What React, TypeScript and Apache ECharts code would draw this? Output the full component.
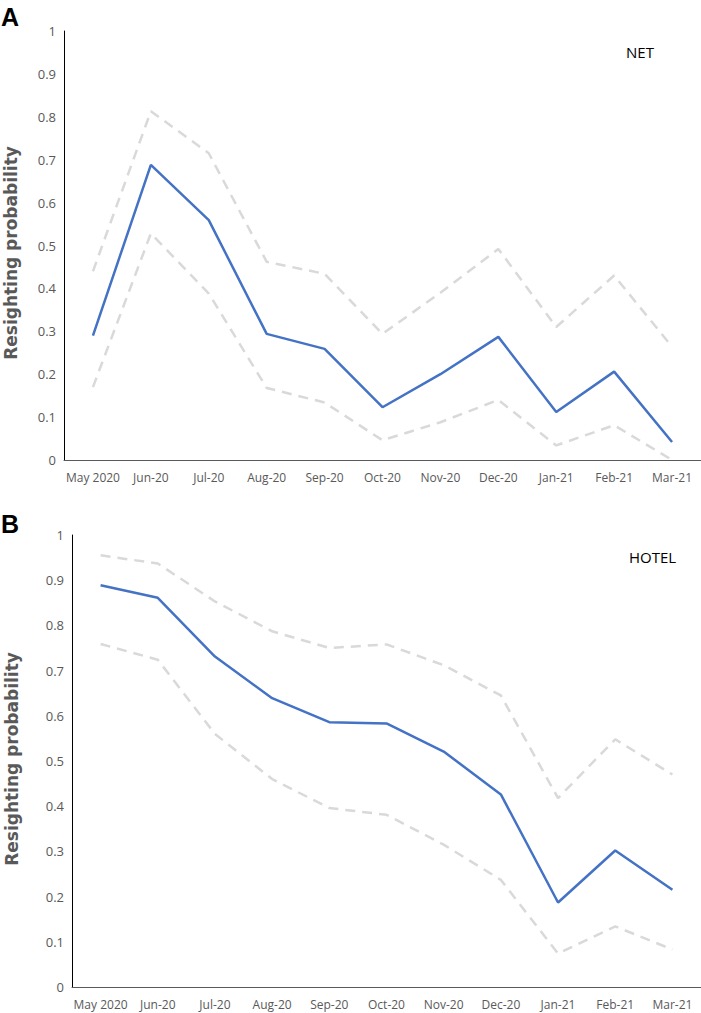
import React, { useEffect, useRef } from "react";
import * as echarts from "echarts";

const categories = ["May 2020", "Jun-20", "Jul-20", "Aug-20", "Sep-20", "Oct-20", "Nov-20", "Dec-20", "Jan-21", "Feb-21", "Mar-21"];
const yTickLabels = ["0", "0.1", "0.2", "0.3", "0.4", "0.5", "0.6", "0.7", "0.8", "0.9", "1"];
const yTitle = "Resighting probability";

const netMean = [0.29, 0.688, 0.559, 0.294, 0.259, 0.123, 0.2, 0.287, 0.112, 0.206, 0.042];
const netUpper = [0.44, 0.813, 0.715, 0.462, 0.434, 0.294, 0.39, 0.492, 0.31, 0.43, 0.264];
const netLower = [0.17, 0.528, 0.388, 0.168, 0.134, 0.046, 0.088, 0.14, 0.034, 0.081, 0.0];

const hotelMean = [0.889, 0.861, 0.731, 0.639, 0.586, 0.583, 0.521, 0.426, 0.187, 0.302, 0.215];
const hotelUpper = [0.955, 0.937, 0.853, 0.787, 0.75, 0.758, 0.712, 0.645, 0.418, 0.548, 0.47];
const hotelLower = [0.759, 0.724, 0.56, 0.46, 0.396, 0.381, 0.315, 0.237, 0.074, 0.134, 0.083];

const FONT = "'Open Sans', sans-serif";
const LABEL_COLOR = "#595959";

export default function App() {
  const ref = useRef<HTMLDivElement>(null);

  useEffect(() => {
    document.body.style.margin = "0";
    if (!ref.current) return;
    const chart = echarts.init(ref.current, null, { renderer: "svg" });

    const xAxisBase = (gridIndex: number) => ({
      type: "category",
      gridIndex,
      data: categories,
      boundaryGap: true,
      axisTick: { show: false },
      axisLine: { show: true, lineStyle: { color: "#595959", width: 1 } },
      axisLabel: { color: LABEL_COLOR, fontSize: 12, fontFamily: FONT, margin: 11, interval: 0 },
      splitLine: { show: false },
    });

    const yAxisBase = (gridIndex: number) => ({
      type: "value",
      gridIndex,
      min: 0,
      max: 1,
      interval: 0.1,
      axisTick: { show: false },
      axisLine: { show: true, lineStyle: { color: "#000000", width: 1 } },
      axisLabel: {
        color: LABEL_COLOR,
        fontSize: 13,
        fontFamily: FONT,
        margin: 8,
        formatter: (v: number) => yTickLabels[Math.round(v * 10)] ?? String(v),
      },
      splitLine: { show: false },
    });

    const dashed = (data: number[], idx: number) => ({
      type: "line",
      xAxisIndex: idx,
      yAxisIndex: idx,
      data,
      symbol: "none",
      lineStyle: { color: "#D9D9D9", width: 2.5, type: [10, 7] },
      z: 2,
    });
    const solid = (data: number[], idx: number) => ({
      type: "line",
      xAxisIndex: idx,
      yAxisIndex: idx,
      data,
      symbol: "none",
      lineStyle: { color: "#4472C4", width: 2.5 },
      z: 3,
    });

    const titleStyle = {
      text: yTitle,
      fontSize: 17,
      fontWeight: "bold",
      fontFamily: "'DejaVu Sans', sans-serif",
      fill: LABEL_COLOR,
      textAlign: "center",
      textVerticalAlign: "middle",
    };

    chart.setOption({
      animation: false,
      backgroundColor: "#ffffff",
      grid: [
        { left: 64, right: 0, top: 31, height: 429 },
        { left: 72, right: 0, top: 535, height: 452 },
      ],
      xAxis: [xAxisBase(0), xAxisBase(1)],
      yAxis: [yAxisBase(0), yAxisBase(1)],
      series: [
        dashed(netUpper, 0),
        dashed(netLower, 0),
        solid(netMean, 0),
        dashed(hotelUpper, 1),
        dashed(hotelLower, 1),
        solid(hotelMean, 1),
      ],
      graphic: [
        { type: "text", left: 1, top: 4, style: { text: "A", fontSize: 25, fontWeight: "bold", fontFamily: "'Liberation Sans', Arial, sans-serif", fill: "#000" } },
        { type: "text", left: 1, top: 511, style: { text: "B", fontSize: 25, fontWeight: "bold", fontFamily: "'Liberation Sans', Arial, sans-serif", fill: "#000" } },
        { type: "text", left: 626, top: 44, style: { text: "NET", fontSize: 15, fontFamily: FONT, fill: "#000" } },
        { type: "text", left: 629, top: 549, style: { text: "HOTEL", fontSize: 15, fontFamily: FONT, fill: "#000" } },
        { type: "text", x: 11, y: 253, rotation: Math.PI / 2, style: titleStyle },
        { type: "text", x: 12, y: 759, rotation: Math.PI / 2, style: titleStyle },
      ],
    });

    return () => chart.dispose();
  }, []);

  return <div ref={ref} style={{ width: 701, height: 1013 }} />;
}
